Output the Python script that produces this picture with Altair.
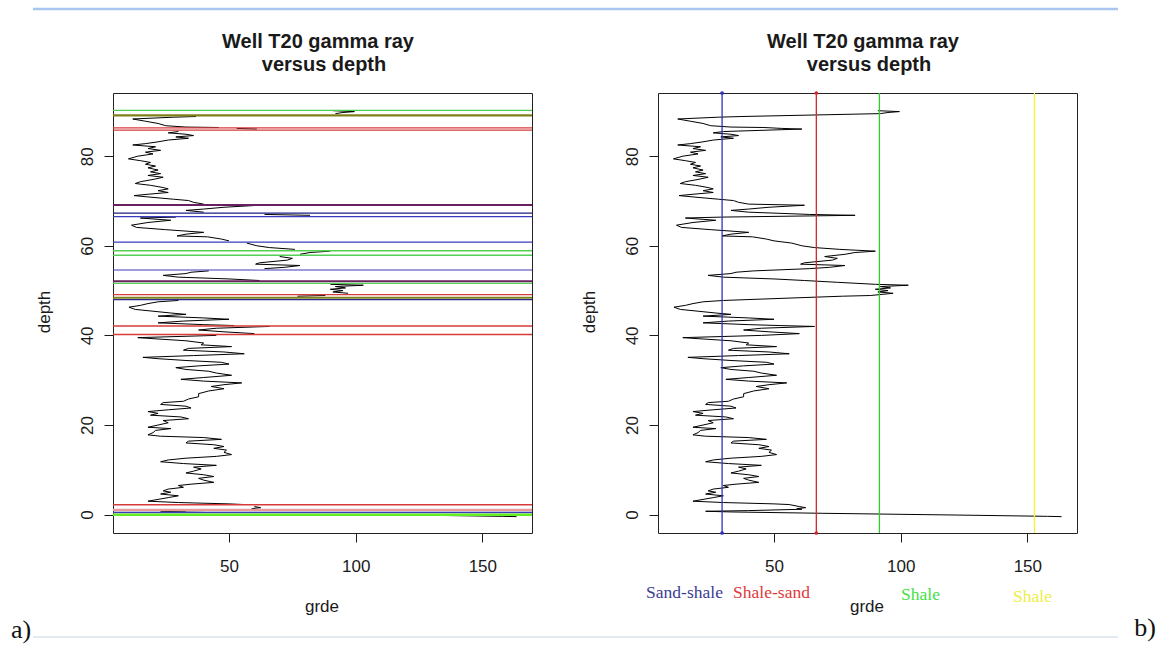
import altair as alt
import pandas as pd

# ---------------- data ----------------
# gamma-ray log, listed from the top of the well downwards
depth = [90.15, 89.95, 89.75, 89.5, 88.85, 88.7, 88.3, 87.8, 87.3, 86.8, 86.5, 86.4,
         86.2, 86.05, 85.5, 85.2, 84.9, 84.6, 84.3, 84.0, 83.6, 83.2, 82.8, 82.5,
         82.1, 81.7, 81.3, 80.9, 80.5, 80.0, 79.4, 79.0, 78.6, 78.2, 77.8, 77.4,
         76.9, 76.5, 76.1, 75.7, 75.3, 74.8, 74.3, 73.9, 73.5, 73.0, 72.7, 72.3,
         71.9, 71.5, 71.2, 70.8, 70.4, 70.1, 69.7, 69.3, 69.05, 68.6, 68.2, 67.9,
         67.5, 67.0, 66.8, 66.4, 66.2, 65.9, 65.7, 65.2, 64.6, 64.1, 63.6, 63.0,
         62.6, 62.2, 62.0, 61.5, 61.1, 60.6, 60.0, 59.6, 59.2, 58.8, 58.5, 58.1,
         57.6, 57.2, 56.8, 56.2, 55.9, 55.6, 55.2, 54.9, 54.4, 54.1, 53.8, 53.4,
         53.0, 52.6, 52.25, 51.85, 51.4, 51.2, 50.9, 50.6, 50.3, 50.0, 49.7, 49.4,
         48.9, 48.75, 47.8, 47.5, 47.1, 46.7, 46.3, 45.8, 45.4, 45.0, 44.7, 44.3,
         43.9, 43.6, 43.2, 42.8, 42.4, 42.2, 42.0, 41.6, 41.2, 40.8, 40.4, 40.0,
         39.5, 39.2, 38.8, 38.3, 37.9, 37.5, 37.1, 36.7, 36.3, 35.9, 35.5, 35.1,
         34.8, 34.4, 34.0, 33.6, 33.2, 32.8, 32.4, 32.0, 31.6, 31.1, 30.6, 30.2,
         29.8, 29.4, 29.0, 28.6, 28.1, 27.6, 27.0, 26.3, 25.8, 25.3, 25.0, 24.6,
         24.2, 23.8, 23.4, 23.0, 22.6, 22.2, 21.8, 21.4, 21.0, 20.5, 20.0, 19.5,
         19.2, 18.8, 18.3, 17.8, 17.5, 17.2, 16.8, 16.4, 16.0, 15.6, 15.2, 14.8,
         14.4, 13.9, 13.4, 13.0, 12.6, 12.2, 11.8, 11.4, 11.0, 10.6, 10.2, 9.7,
         9.3, 8.9, 8.5, 8.1, 7.7, 7.2, 6.8, 6.5, 6.1, 5.7, 5.3, 5.0,
         4.6, 4.2, 3.8, 3.4, 3.0, 2.7, 2.4, 2.25, 1.8, 1.55, 1.35, 1.2,
         0.9, 0.75, 0.6, 0.3, -0.1, -0.38, -0.45]
grde = [91, 99.5, 95, 92, 37, 28, 12, 17, 22, 25, 33, 46,
        53, 61, 30, 26, 33, 36, 29, 34, 26, 22, 17, 12,
        21, 18, 23, 17, 20, 14, 10.3, 15, 19, 17, 21, 18,
        22, 19, 23, 18, 24, 20, 15, 13, 19, 24, 26, 22,
        26, 18, 12.5, 20, 28, 34, 36, 40, 62, 48, 40, 33,
        40, 64, 82, 29, 15, 22, 27, 18, 11.5, 13.5, 25, 40,
        33, 29.5, 41.5, 47, 50, 57, 61, 66, 76, 90, 82, 78,
        70, 75, 73, 62, 60.5, 78, 72, 64, 42, 35, 33, 24,
        30, 50, 62, 75, 90, 103, 92, 96, 90, 95, 91, 97,
        88, 77, 30, 22, 18, 15, 10.5, 13, 20, 27, 33, 22,
        40, 50, 32, 22, 40, 52, 66, 45, 38, 48, 60, 45,
        14, 22, 33, 40, 39, 51, 34, 32, 48, 56, 36, 16,
        22, 33, 47, 50, 38, 29, 33, 42, 45, 51, 40, 31,
        40, 55, 48, 43, 48, 42, 38, 38, 34, 32, 24, 23,
        33, 35, 26, 18, 22, 19, 31, 34, 24, 26, 22, 18,
        27, 21, 20, 18, 23, 40, 47, 34, 33, 44, 48, 44,
        49, 48, 51, 45, 33, 26, 23, 32, 45, 36, 39, 36,
        33, 40, 44, 38, 40, 44, 35, 30, 32, 26, 24, 27,
        23, 30, 26, 22, 18, 30, 50, 56, 60, 62.5, 59, 61,
        40, 23, 33, 69, 123, 158, 163.5]

# panel a): horizontal zone boundaries
bound_depth = [90.2, 89.1, 86.3, 85.8, 69.1, 67.3, 66.5, 60.8, 58.9, 57.9, 54.6,
               52.1, 51.6, 49.1, 48.4, 48.0, 42.1, 40.2, 2.2, 1.05, 0.45, -0.05]
bound_color = ["#4ccf4c", "#80801a", "#d83a3a", "#d83a3a", "#6a1f5f", "#1c1c80",
               "#3b3bbd", "#3b3bbd", "#55d055", "#55d055", "#3b3bbd", "#6a1f5f",
               "#55d055", "#d83a3a", "#80801a", "#2a2a90", "#d83a3a", "#d83a3a",
               "#d83a3a", "#e89a9a", "#3b3bbd", "#66ee22"]
bound_width = [1.2, 2.2, 1.3, 1.3, 2.0, 1.3, 1.2, 1.2, 1.4, 1.4, 1.2,
               2.0, 1.2, 1.3, 2.0, 1.3, 1.3, 1.3, 1.3, 2.5, 1.5, 2.5]

# panel b): cut-off values
cut_value = [29.5, 66.7, 91.6, 152.8]
cut_color = ["#3030c0", "#d02a2a", "#2ecc2e", "#f2f23a"]
cut_label = ["Sand-shale", "Shale-sand", "Shale", "Shale"]
cut_label_color = ["#3c3c96", "#e03a3a", "#44e044", "#eeee44"]

x_ticks = [50, 100, 150]
y_ticks = [0, 20, 40, 60, 80]
x_domain = [4.2, 169.6]
y_domain = [-4.1, 94.1]

title_lines = ["Well T20 gamma ray", "versus depth"]
x_title = "grde"
y_title = "depth"
panel_tags = ["a)", "b)"]

# ---------------- chart ----------------
W, H = 419, 440
SANS = "Liberation Sans"
SERIF = "Liberation Serif"
INK = "#1a1a1a"

zones = [sum(1 for b in bound_depth if b > d) for d in depth]
log = pd.DataFrame({"idx": list(range(len(depth))), "depth": depth, "grde": grde, "zone": zones})
bounds = pd.DataFrame({"depth": bound_depth, "color": bound_color, "width": bound_width})
cuts = pd.DataFrame({"grde": cut_value, "color": cut_color})
dots = pd.DataFrame({
    "grde": [v for v in cut_value[:2] for _ in y_domain],
    "depth": y_domain * 2,
    "color": [c for c in cut_color[:2] for _ in y_domain],
})
one = pd.DataFrame({"k": [0]})

xs = alt.Scale(domain=x_domain, nice=False, zero=False)
ys = alt.Scale(domain=y_domain, nice=False, zero=False)

x_axis = alt.Axis(values=x_ticks, title=None, grid=False, domain=False, tickSize=9,
                  tickColor=INK, tickWidth=1, labelFont=SANS, labelFontSize=17,
                  labelColor=INK, labelPadding=24, labelBaseline="middle",
                  labelAlign="center", labelFlush=False)
y_axis = alt.Axis(values=y_ticks, title=None, grid=False, domain=False, tickSize=9,
                  tickColor=INK, tickWidth=1, labelFont=SANS, labelFontSize=17,
                  labelColor=INK, labelAngle=270, labelAlign="center",
                  labelBaseline="middle", labelPadding=17, labelFlush=False)

X = alt.X("grde:Q", scale=xs, axis=x_axis)
Y = alt.Y("depth:Q", scale=ys, axis=y_axis)


def label(txt, x, y, size, font=SANS, color=INK, weight="normal", angle=0):
    return alt.Chart(one).mark_text(
        text=txt, font=font, fontSize=size, fontWeight=weight, color=color,
        angle=angle, align="center", baseline="middle"
    ).encode(x=alt.value(x), y=alt.value(y))


def hrule(x1, x2, y, color, w):
    return alt.Chart(one).mark_rule(color=color, strokeWidth=w).encode(
        x=alt.value(x1), x2=alt.value(x2), y=alt.value(y))


def decorations():
    return [
        label(title_lines[0], 205, -51, 20, weight="bold"),
        label(title_lines[1], 211, -28, 20, weight="bold"),
        label(x_title, 209, 514, 17),
        label(y_title, -68, 219, 17, angle=270),
    ]


# panel a
curve_a = alt.Chart(log).mark_line(color="black", strokeWidth=1).encode(
    x=X, y=Y, detail="zone:N", order="idx:Q")
rules_a = alt.Chart(bounds).mark_rule().encode(
    y=Y,
    color=alt.Color("color:N", scale=None),
    strokeWidth=alt.StrokeWidth("width:Q", scale=None),
)
left = alt.layer(
    curve_a, rules_a, *decorations(),
    label(panel_tags[0], -92, 537, 26, font=SERIF, color="#111"),
    label(panel_tags[1], 1032, 535, 26, font=SERIF, color="#111"),
    hrule(-80, 1005, -84, "#a9c7ee", 2.5),
    hrule(-80, 1005, 544, "#c9d5e6", 1.2),
).properties(width=W, height=H)

# panel b
curve_b = alt.Chart(log).mark_line(color="black", strokeWidth=1).encode(
    x=X, y=Y, order="idx:Q")
cut_rules = alt.Chart(cuts).mark_rule(strokeWidth=1.3).encode(
    x=X, color=alt.Color("color:N", scale=None))
cut_dots = alt.Chart(dots).mark_circle(size=14, opacity=1).encode(
    x=X, y=Y, color=alt.Color("color:N", scale=None))
legend_pos = [(26.5, 500, 17.5), (113.5, 500, 17.5), (262.5, 502, 17.5), (374.5, 504, 17.5)]
legend_marks = [
    label(cut_label[i], legend_pos[i][0], legend_pos[i][1], legend_pos[i][2],
          font=SERIF, color=cut_label_color[i])
    for i in range(len(cut_label))
]
right = alt.layer(
    curve_b, cut_rules, cut_dots, *decorations(), *legend_marks
).properties(width=W, height=H)

chart = alt.hconcat(left, right, spacing=126, bounds="flush").properties(
    autosize=alt.AutoSizeParams(type="none"),
    padding={"left": 113, "top": 93, "right": 1053, "bottom": 553},
    background="white",
).configure_view(stroke="#222", strokeWidth=1)

chart.save("out.html", embed_options={"renderer": "svg", "actions": False})
